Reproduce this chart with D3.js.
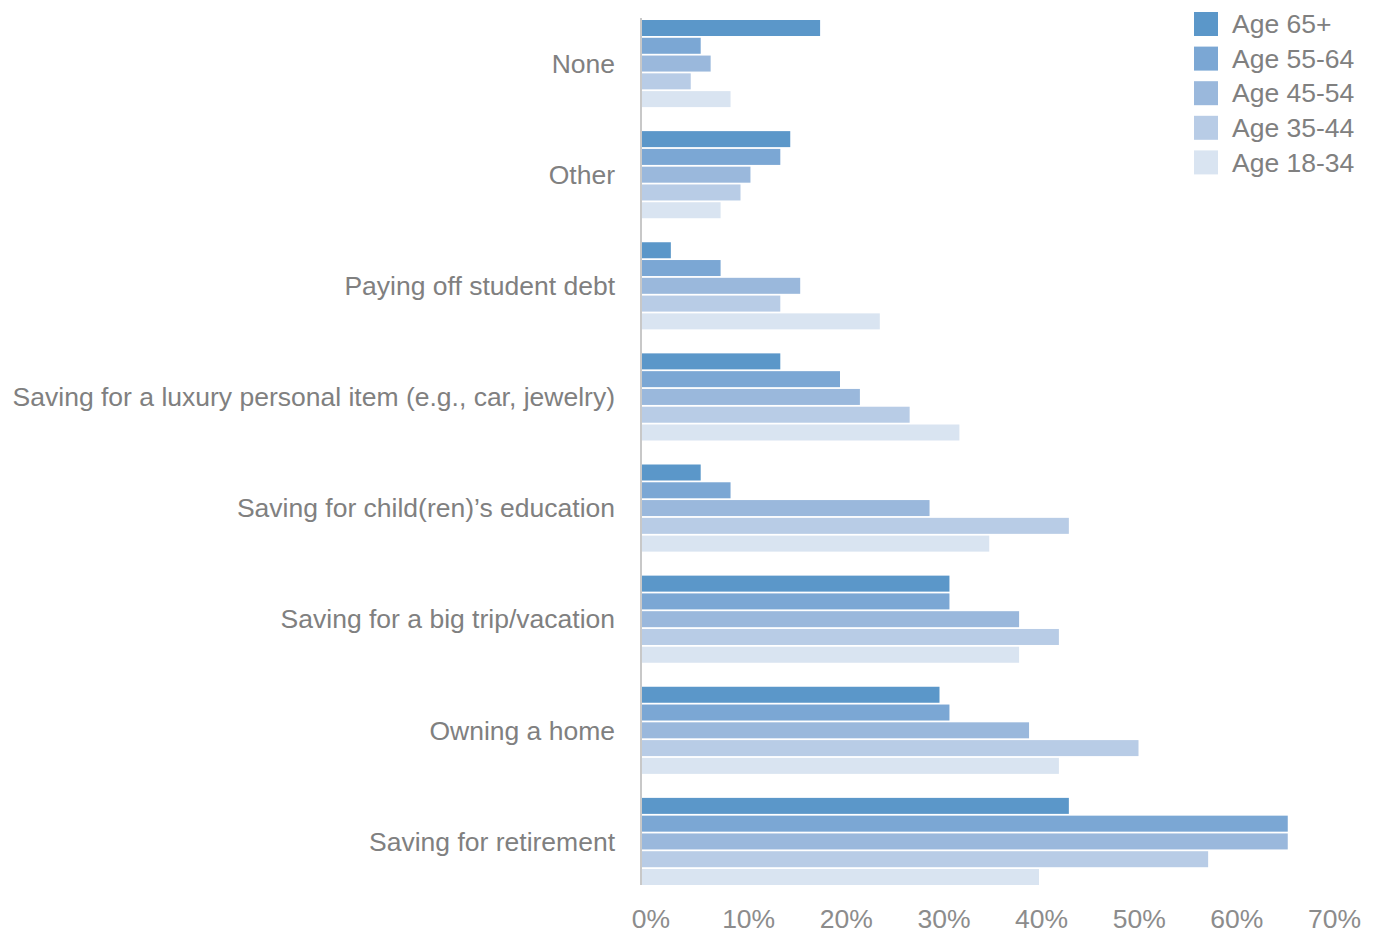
<!DOCTYPE html>
<html>
<head>
<meta charset="utf-8">
<script src="https://cdn.jsdelivr.net/npm/d3@7"></script>
<style>
  html, body { margin: 0; padding: 0; background: #fff; }
  svg { display: block; }
  text { font-family: "Liberation Sans", Arial, Helvetica, sans-serif; }
</style>
</head>
<body>
<svg id="chart" width="1379" height="934"></svg>
<script>
const categories = [
  "None",
  "Other",
  "Paying off student debt",
  "Saving for a luxury personal item (e.g., car, jewelry)",
  "Saving for child(ren)\u2019s education",
  "Saving for a big trip/vacation",
  "Owning a home",
  "Saving for retirement"
];
const seriesNames = ["Age 65+", "Age 55-64", "Age 45-54", "Age 35-44", "Age 18-34"];
const age65plus  = [18, 15, 3, 14, 6, 31, 30, 43];
const age55to64  = [6, 14, 8, 20, 9, 31, 31, 65];
const age45to54  = [7, 11, 16, 22, 29, 38, 39, 65];
const age35to44  = [5, 10, 14, 27, 43, 42, 50, 57];
const age18to34  = [9, 8, 24, 32, 35, 38, 42, 40];
const tickValues = [0, 10, 20, 30, 40, 50, 60, 70];
const tickLabels = ["0%", "10%", "20%", "30%", "40%", "50%", "60%", "70%"];
const colors = ["#5b97c9", "#7ba7d4", "#9ab8dc", "#b8cce6", "#d9e4f1"];

const seriesValues = [age65plus, age55to64, age45to54, age35to44, age18to34];

const svg = d3.select("#chart");
const plotLeft = 641, plotRight = 1337.5, plotTop = 20, plotBottom = 885;
const fontSize = 26.5;

const x = d3.scaleLinear().domain([0, 70]).range([plotLeft, plotRight]);
const xLabels = d3.scaleLinear().domain([0, 70]).range([plotLeft + 9.5, plotRight - 3.5]);
const y0 = d3.scaleBand().domain(categories).range([plotTop, plotBottom]).paddingInner(0.216).paddingOuter(0);
const y1 = d3.scaleBand().domain(seriesNames).range([0, y0.bandwidth()]).paddingInner(0.1).paddingOuter(0);
const color = d3.scaleOrdinal().domain(seriesNames).range(colors);

// bars
const groups = svg.append("g").selectAll("g")
  .data(categories)
  .join("g")
  .attr("transform", d => `translate(0,${y0(d)})`);

groups.selectAll("rect")
  .data((c, i) => seriesNames.map((s, j) => ({ s, v: seriesValues[j][i] })))
  .join("rect")
  .attr("x", x(0))
  .attr("y", d => y1(d.s))
  .attr("width", d => x(d.v) - x(0))
  .attr("height", y1.bandwidth())
  .attr("fill", d => color(d.s));

// vertical axis line
svg.append("line")
  .attr("x1", x(0)).attr("x2", x(0))
  .attr("y1", plotTop - 2).attr("y2", plotBottom)
  .attr("stroke", "#c8c8c8").attr("stroke-width", 2);

// category labels
svg.append("g").selectAll("text")
  .data(categories)
  .join("text")
  .attr("x", 615)
  .attr("y", d => y0(d) + y0.bandwidth() / 2)
  .attr("dy", "0.35em")
  .attr("text-anchor", "end")
  .attr("font-size", fontSize)
  .attr("fill", "#808080")
  .text(d => d);

// x axis tick labels
const xAxis = d3.axisBottom(xLabels)
  .tickValues(tickValues)
  .tickFormat((d, i) => tickLabels[i])
  .tickSize(0)
  .tickPadding(0);
const axG = svg.append("g").attr("transform", "translate(0,909)").call(xAxis);
axG.select(".domain").remove();
axG.selectAll("text")
  .attr("font-size", fontSize)
  .attr("font-family", "Liberation Sans, Arial, sans-serif")
  .attr("fill", "#8c8c8c")
  .attr("dy", "0.71em");

// legend
const legend = svg.append("g").attr("transform", "translate(1194,12)");
const li = legend.selectAll("g")
  .data(seriesNames)
  .join("g")
  .attr("transform", (d, i) => `translate(0,${i * 34.6})`);
li.append("rect")
  .attr("width", 24).attr("height", 24)
  .attr("fill", d => color(d));
li.append("text")
  .attr("x", 38).attr("y", 12)
  .attr("dy", "0.35em")
  .attr("font-size", fontSize)
  .attr("fill", "#808080")
  .text(d => d);
</script>
</body>
</html>
